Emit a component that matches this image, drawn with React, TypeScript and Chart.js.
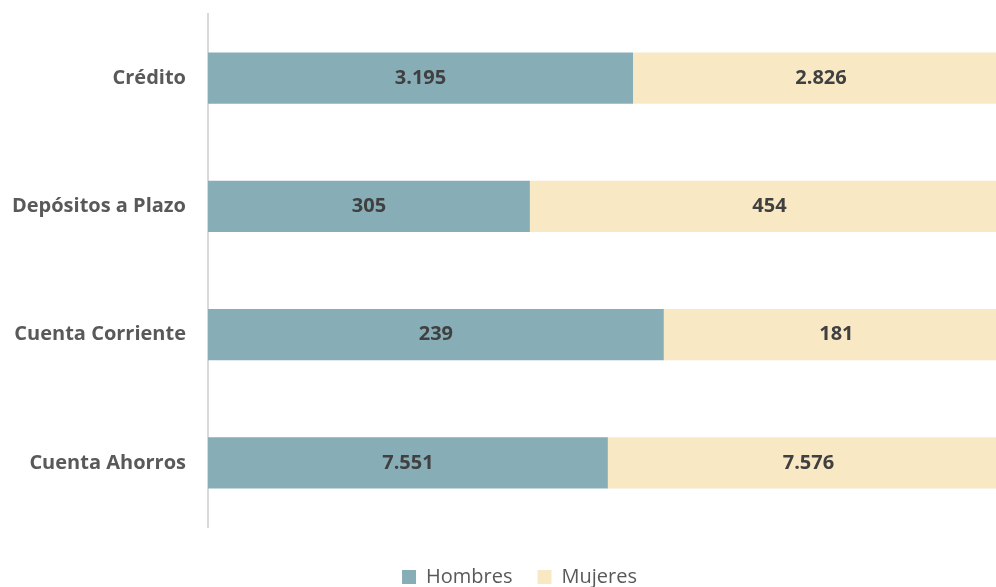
import React, { useEffect, useRef } from "react";
import { Chart, registerables } from "chart.js";

Chart.register(...registerables);

const categories = ["Crédito", "Depósitos a Plazo", "Cuenta Corriente", "Cuenta Ahorros"];
const hombres = [3195, 305, 239, 7551];
const mujeres = [2826, 454, 181, 7576];
const seriesNames = ["Hombres", "Mujeres"];
const seriesColors = ["#87AEB7", "#F8E8C4"];

const fmt = (v: number) => v.toString().replace(/\B(?=(\d{3})+(?!\d))/g, ".");

export default function App() {
  const ref = useRef<HTMLCanvasElement | null>(null);
  useEffect(() => {
    if (!ref.current) return;
    const totals = categories.map((_, i) => hombres[i] + mujeres[i]);
    const raw = [hombres, mujeres];
    const labelPlugin = {
      id: "valueLabels",
      afterLayout(chart: any) {
        if (chart.legend) {
          chart.legend.left += 15;
          chart.legend.right += 15;
        }
      },
      afterDatasetsDraw(chart: any) {
        const ctx = chart.ctx;
        ctx.save();
        ctx.font = "bold 20px 'Open Sans'";
        ctx.fillStyle = "#404040";
        ctx.textAlign = "center";
        ctx.textBaseline = "middle";
        chart.data.datasets.forEach((ds: any, di: number) => {
          const meta = chart.getDatasetMeta(di);
          meta.data.forEach((bar: any, i: number) => {
            const x = (bar.x + bar.base) / 2;
            ctx.fillText(fmt(raw[di][i]), x, bar.y);
          });
        });
        ctx.restore();
      },
    };
    const chart = new Chart(ref.current, {
      type: "bar",
      data: {
        labels: categories,
        datasets: [hombres, mujeres].map((arr, di) => ({
          label: seriesNames[di],
          data: arr.map((v, i) => (v / totals[i]) * 100),
          backgroundColor: seriesColors[di],
          borderWidth: 0,
          categoryPercentage: 0.4,
          barPercentage: 1,
        })),
      },
      options: {
        indexAxis: "y",
        responsive: false,
        animation: false,
        devicePixelRatio: 1,
        layout: { padding: { top: 14, left: 0, right: 0, bottom: 0 } },
        plugins: {
          legend: {
            position: "bottom",
            labels: {
              font: { family: "'Open Sans'", size: 20 },
              color: "#595959",
              boxWidth: 14,
              boxHeight: 14,
              padding: 25,
            },
          },
          tooltip: { enabled: false },
        },
        scales: {
          x: {
            stacked: true,
            display: true,
            min: 0,
            max: 100,
            grid: { display: false, drawTicks: false },
            border: { display: false },
            ticks: { display: false },
            afterFit(scale: any) {
              scale.height = 15;
              scale.paddingLeft = 0;
              scale.paddingRight = 0;
            },
          },
          y: {
            stacked: true,
            grid: { display: false, drawTicks: false },
            border: { display: true, color: "#D9D9D9", width: 2 },
            ticks: {
              font: { family: "'Open Sans'", size: 20, weight: "bold" },
              color: "#595959",
              padding: 22,
            },
            afterFit(scale: any) {
              scale.width = 208;
              scale.paddingTop = 0;
              scale.paddingBottom = 0;
            },
          },
        },
      },
      plugins: [labelPlugin],
    });
    return () => chart.destroy();
  }, []);
  return (
    <div style={{ position: "fixed", left: 0, top: 0, width: 996, height: 587, overflow: "hidden", background: "#fff" }}>
      <canvas ref={ref} width={1009} height={597} style={{ display: "block" }} />
    </div>
  );
}
